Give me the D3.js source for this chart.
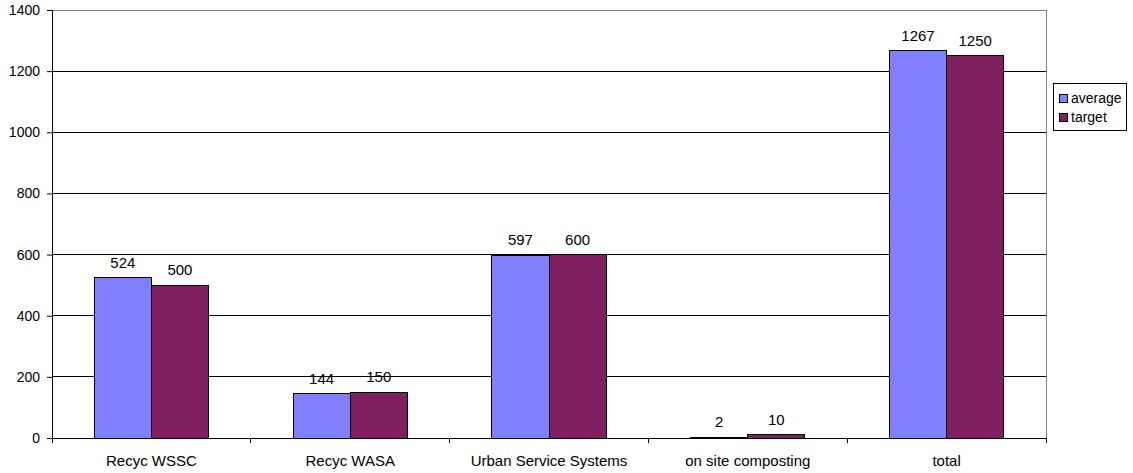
<!DOCTYPE html>
<html>
<head>
<meta charset="utf-8">
<script src="https://cdn.jsdelivr.net/npm/d3@7"></script>
<style>
  body { margin: 0; background: #fff; }
  svg { display: block; font-family: "Liberation Sans", Arial, sans-serif; }
</style>
</head>
<body>
<svg id="chart" width="1133" height="473"></svg>
<script>
// Chart data
const categories = ["Recyc WSSC", "Recyc WASA", "Urban Service Systems", "on site composting", "total"];
const averageValues = [524, 144, 597, 2, 1267];
const targetValues = [500, 150, 600, 10, 1250];
const seriesNames = ["average", "target"];
const yTicks = [0, 200, 400, 600, 800, 1000, 1200, 1400];

const colors = { average: "#8080FF", target: "#7F1F5F" };
const FONT = "Liberation Sans, Arial, sans-serif";

const svg = d3.select("#chart");
const margin = { left: 52, right: 1046, top: 10, bottom: 438 };

const x = d3.scaleBand().domain(categories).range([margin.left, margin.right]);
const inner = d3.scaleBand().domain(seriesNames)
  .range([0, x.bandwidth()]).paddingInner(0).paddingOuter(0.74);
const y = d3.scaleLinear().domain([0, 1400]).range([margin.bottom, margin.top]);

// Gridlines
svg.append("g").selectAll("line").data(yTicks.filter(d => d > 0 && d < 1400)).join("line")
  .attr("x1", margin.left).attr("x2", margin.right)
  .attr("y1", d => y(d)).attr("y2", d => y(d))
  .attr("stroke", "#000").attr("stroke-width", 1).attr("shape-rendering", "crispEdges");

// Plot frame
svg.append("rect")
  .attr("x", margin.left).attr("y", margin.top)
  .attr("width", margin.right - margin.left).attr("height", margin.bottom - margin.top)
  .attr("fill", "none").attr("stroke", "#808080").attr("shape-rendering", "crispEdges");

// Bars
const series = seriesNames.map(name => ({
  name,
  values: name === "average" ? averageValues : targetValues
}));

const groups = svg.append("g").selectAll("g").data(series).join("g")
  .attr("fill", d => colors[d.name]);

groups.selectAll("rect").data(s => s.values.map((v, i) => ({ name: s.name, cat: categories[i], v })))
  .join("rect")
  .attr("x", d => x(d.cat) + inner(d.name))
  .attr("y", d => y(d.v))
  .attr("width", inner.bandwidth())
  .attr("height", d => y(0) - y(d.v))
  .attr("stroke", "#000").attr("stroke-width", 1).attr("shape-rendering", "crispEdges");

// Value labels
groups.selectAll("text").data(s => s.values.map((v, i) => ({ name: s.name, cat: categories[i], v })))
  .join("text")
  .attr("x", d => x(d.cat) + inner(d.name) + inner.bandwidth() / 2)
  .attr("y", d => y(d.v) - 10)
  .attr("text-anchor", "middle")
  .attr("font-size", 15)
  .attr("fill", "#000")
  .text(d => d.v);

// Y axis
const yAxis = svg.append("g")
  .attr("transform", `translate(${margin.left},0)`)
  .call(d3.axisLeft(y).tickValues(yTicks).tickSize(5).tickPadding(7).tickFormat(d3.format("d")));
yAxis.select(".domain").attr("stroke", "#000");
yAxis.selectAll(".tick line").attr("stroke", "#000");
yAxis.selectAll("text").attr("font-size", 14).attr("font-family", FONT).attr("fill", "#000");

// X axis
const xAxis = svg.append("g")
  .attr("transform", `translate(0,${margin.bottom})`)
  .call(d3.axisBottom(x).tickSize(0));
xAxis.select(".domain").attr("stroke", "#000");
xAxis.selectAll("text").attr("y", 28).attr("dy", 0)
  .attr("font-size", 15).attr("font-family", FONT).attr("fill", "#000");
// Category separator ticks
svg.append("g").selectAll("line").data(categories.concat(["end"])).join("line")
  .attr("x1", (d, i) => i < categories.length ? x(d) : margin.right)
  .attr("x2", (d, i) => i < categories.length ? x(d) : margin.right)
  .attr("y1", margin.bottom).attr("y2", margin.bottom + 5)
  .attr("stroke", "#000").attr("shape-rendering", "crispEdges");

// Legend
const legend = svg.append("g").attr("transform", "translate(1053,83)");
legend.append("rect").attr("width", 73).attr("height", 47)
  .attr("fill", "#fff").attr("stroke", "#000").attr("shape-rendering", "crispEdges");
const items = legend.selectAll("g").data(seriesNames).join("g")
  .attr("transform", (d, i) => `translate(6,${11 + i * 19})`);
items.append("rect").attr("width", 8).attr("height", 8)
  .attr("fill", d => colors[d]).attr("stroke", "#000").attr("shape-rendering", "crispEdges");
items.append("text").attr("x", 12).attr("y", 8.5).attr("font-size", 14).attr("fill", "#000").text(d => d);
</script>
</body>
</html>
